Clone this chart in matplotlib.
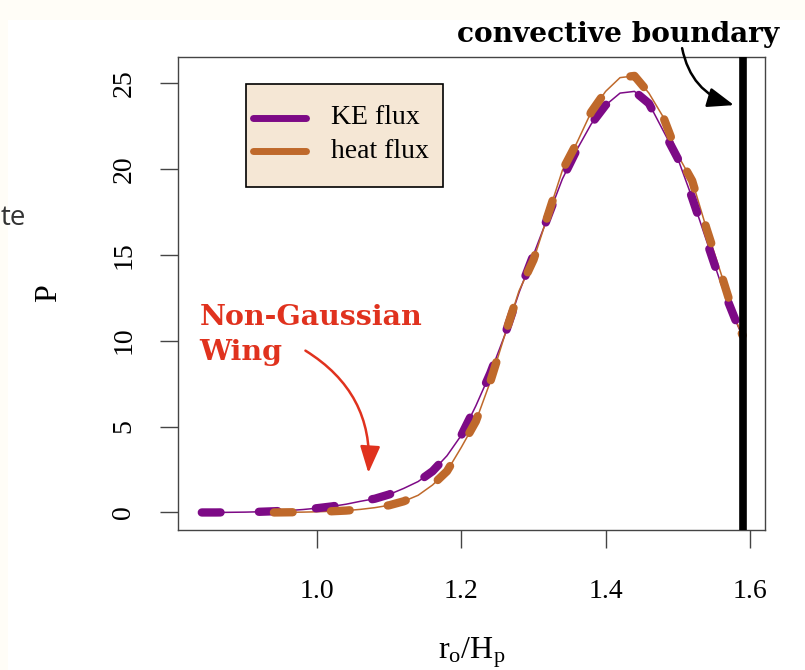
import numpy as np
import matplotlib.pyplot as plt
from matplotlib.lines import Line2D
from matplotlib.patches import Rectangle

plt.rcParams['font.family'] = ['Liberation Serif', 'DejaVu Serif']
plt.rcParams['mathtext.fontset'] = 'custom'
plt.rcParams['mathtext.rm'] = 'Liberation Serif'
plt.rcParams['mathtext.it'] = 'Liberation Serif:italic'

# valores
x_ke = [0.84, 0.86, 0.88, 0.90, 0.92, 0.94, 0.96, 0.98, 1.00, 1.02, 1.04, 1.06,
        1.08, 1.10, 1.12, 1.14, 1.16, 1.18, 1.20, 1.22, 1.24, 1.26, 1.28, 1.30,
        1.32, 1.34, 1.36, 1.38, 1.40, 1.42, 1.44, 1.46, 1.48, 1.50, 1.52, 1.54,
        1.56, 1.58, 1.59]
ke_flux = [0.0, 0.0, 0.01, 0.02, 0.04, 0.07, 0.11, 0.17, 0.25, 0.35, 0.48, 0.65,
           0.80, 1.05, 1.4, 1.8, 2.4, 3.3, 4.5, 6.2, 8.1, 10.3, 12.8, 15.0,
           17.2, 19.4, 21.1, 22.6, 23.7, 24.4, 24.5, 23.8, 22.2, 20.6, 18.3, 15.8,
           13.3, 11.2, 10.2]

x_heat = [0.94, 0.96, 0.98, 1.00, 1.02, 1.04, 1.06, 1.08, 1.10, 1.12, 1.14, 1.16,
          1.18, 1.20, 1.22, 1.24, 1.26, 1.28, 1.30, 1.32, 1.34, 1.36, 1.38, 1.40,
          1.42, 1.44, 1.46, 1.48, 1.50, 1.52, 1.54, 1.56, 1.58, 1.59]
heat_flux = [0.0, 0.01, 0.02, 0.04, 0.07, 0.11, 0.18, 0.28, 0.42, 0.65, 1.0, 1.6,
             2.4, 3.8, 5.3, 7.6, 10.3, 12.9, 14.7, 17.3, 19.9, 21.5, 23.3, 24.5,
             25.3, 25.4, 24.4, 23.0, 20.8, 19.3, 16.5, 13.9, 11.2, 10.3]

x_boundary = 1.590

xticks = [1.0, 1.2, 1.4, 1.6]
xticklabels = ['1.0', '1.2', '1.4', '1.6']
yticks = [0, 5, 10, 15, 20, 25]
labels = ['KE flux', 'heat flux']

c_ke = '#7d0a86'
c_heat = '#bf692b'
c_red = '#e0321e'

W, H = 805, 670
fig = plt.figure(figsize=(W/100, H/100), dpi=100, facecolor='#fffdf7')
fig.patches.append(Rectangle((8/W, 0), 1, 1 - 20/H, transform=fig.transFigure,
                             facecolor='white', edgecolor='none', zorder=-10))
fig.text(0.5/W, 1 - 218/H, 'te', family=['Open Sans', 'DejaVu Sans'],
         fontsize=20, color='#333333', ha='left', va='center')

ax = fig.add_axes([178/W, 1 - 530/H, (765 - 178)/W, (530 - 57)/H])

# linea fina + linea gruesa a trazos
dash = (0, (2.25, 4.6))
ax.plot(x_ke, ke_flux, color=c_ke, lw=1.1, zorder=3)
ax.plot(x_heat, heat_flux, color=c_heat, lw=1.1, zorder=3)
ax.plot(x_ke, ke_flux, color=c_ke, lw=6, ls=dash, dash_capstyle='round', zorder=4)
ax.plot(x_heat, heat_flux, color=c_heat, lw=6, ls=dash, dash_capstyle='round', zorder=5)

ax.axvline(x_boundary, color='black', lw=5.5, zorder=6)

ax.set_xlim(0.807, 1.621)
ax.set_ylim(-1.02, 26.5)
ax.set_xticks(xticks)
ax.set_xticklabels(xticklabels)
ax.set_yticks(yticks)
ax.set_yticklabels([str(v) for v in yticks], rotation=90, va='center')
ax.tick_params(direction='out', length=13, width=1, colors='#444444',
               labelcolor='black', labelsize=20)
ax.tick_params(axis='x', pad=22)
ax.tick_params(axis='y', pad=17)
for s in ax.spines.values():
    s.set_color('#444444')
    s.set_linewidth(1)

ax.set_xlabel(r'$\mathregular{r_o/H_p}$', fontsize=23, labelpad=23)
ax.set_ylabel('P', fontsize=23, labelpad=35)

# leyenda dibujada a mano (caja tipo R)
tf = fig.transFigure
fig.patches.append(Rectangle((246/W, 1 - 187/H), (443 - 246)/W, (187 - 84)/H,
                             transform=tf, facecolor='#f5e7d5', edgecolor='black',
                             lw=1.2, zorder=7))
for yy, col, lab in zip([118, 151], [c_ke, c_heat], labels):
    fig.lines.append(Line2D([253/W, 306/W], [1 - yy/H, 1 - yy/H], transform=tf,
                            color=col, lw=5, solid_capstyle='round', zorder=8))
    fig.text(331/W, 1 - yy/H, lab, fontsize=20, ha='left', va='center', zorder=8)

# anotaciones
ax.annotate('Non-Gaussian\nWing', xy=(1.071, 2.3), xytext=(0.837, 10.33),
            fontsize=20.5, fontweight='bold', color=c_red, family='DejaVu Serif',
            ha='left', va='center', linespacing=1.42,
            arrowprops=dict(arrowstyle='-|>,head_length=0.8,head_width=0.3',
                            color=c_red, lw=1.8, shrinkA=0, shrinkB=0,
                            patchA=None, connectionstyle='arc3,rad=-0.3',
                            relpos=(0.475, 0.25)))
ax.annotate('convective boundary', xy=(1.578, 23.7), xytext=(1.4167, 27.8),
            fontsize=20.2, fontweight='bold', color='black', family='DejaVu Serif',
            ha='center', va='center', annotation_clip=False,
            arrowprops=dict(arrowstyle='-|>,head_length=0.8,head_width=0.3',
                            color='black', lw=1.8, shrinkA=0, shrinkB=0,
                            patchA=None, connectionstyle='arc3,rad=0.3',
                            relpos=(0.70, 0.0)))

fig.savefig('out.png', dpi=100, facecolor=fig.get_facecolor())
